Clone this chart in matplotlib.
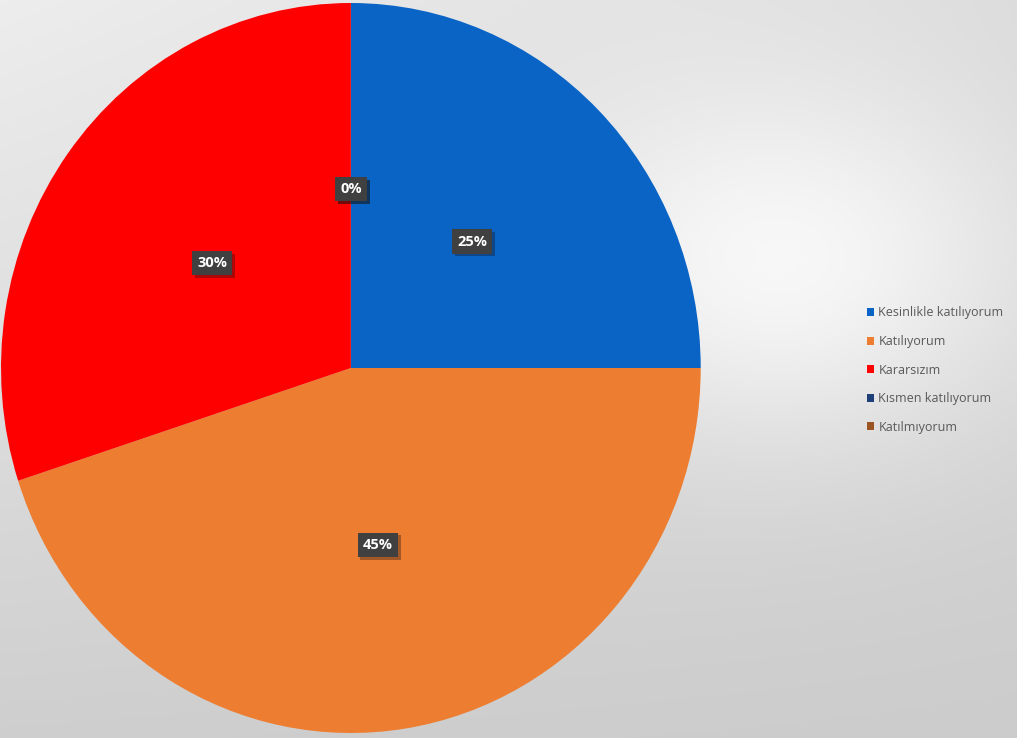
import numpy as np
import matplotlib
matplotlib.use('Agg')
import matplotlib.pyplot as plt
import matplotlib.patheffects as pe
from matplotlib.patches import Patch

categories = ['Kesinlikle katılıyorum', 'Katılıyorum', 'Kararsızım',
              'Kısmen katılıyorum', 'Katılmıyorum']
values = [25, 45, 30, 0, 0]
colors = ['#0A64C6', '#ED7D31', '#FF0000', '#1F3F78', '#9C5522']

plt.rcParams['font.family'] = ['Open Sans', 'DejaVu Sans']

fig = plt.figure(figsize=(10.17, 7.38), dpi=100)

# grey background: bilinear corners plus a soft highlight right of the pie
bg = fig.add_axes([0, 0, 1, 1])
yy, xx = np.mgrid[0:738, 0:1017]
u = xx / 1016.0
v = yy / 737.0
shade = (0.93 * (1 - u) * (1 - v) + 0.86 * u * (1 - v)
         + 0.81 * (1 - u) * v + 0.80 * u * v)
d2 = ((xx - 790) / 1017.0) ** 2 + ((yy - 270) / 738.0) ** 2
shade = shade + 0.12 * np.exp(-d2 / 0.06)
shade = np.clip(shade, 0, 1)
bg.imshow(np.dstack([shade] * 3), aspect='auto', extent=[0, 1, 0, 1])
bg.axis('off')

ax = fig.add_axes([0.001, 5 / 738, 0.688, 730 / 738])
wedges, texts, autotexts = ax.pie(
    values, colors=colors, startangle=90, counterclock=False,
    autopct='%1.0f%%', pctdistance=0.49, radius=1.0,
    wedgeprops=dict(linewidth=0),
    textprops=dict(color='white', fontsize=10.5, fontweight='bold'))
for t in autotexts:
    t.set_bbox(dict(boxstyle='square,pad=0.35', facecolor='#404040',
                    edgecolor='none'))
    t.get_bbox_patch().set_path_effects(
        [pe.SimplePatchShadow(offset=(2, -2), alpha=0.35), pe.Normal()])
ax.set_xlim(-1, 1)
ax.set_ylim(-1, 1)
ax.set_aspect('auto')
ax.axis('off')

handles = [Patch(facecolor=c, edgecolor='none') for c in colors]
leg = fig.legend(handles, categories, loc='center left',
                 bbox_to_anchor=(0.841, 0.4985), frameon=False,
                 fontsize=9, handlelength=0.6, handleheight=0.6,
                 handletextpad=0.35, labelspacing=1.25)
for t in leg.get_texts():
    t.set_color('#595959')

fig.savefig('out.png', dpi=100)
